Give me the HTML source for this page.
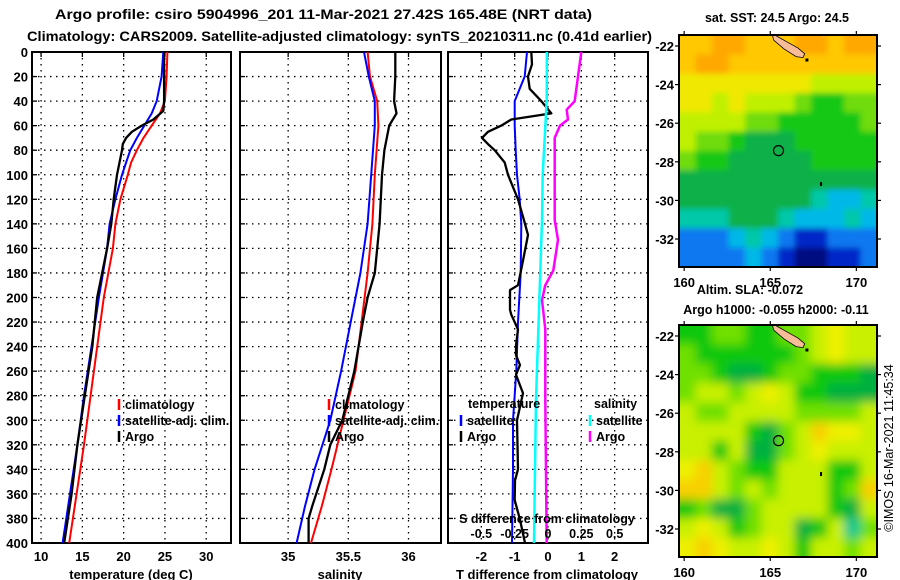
<!DOCTYPE html>
<html><head><meta charset="utf-8"><style>
body{margin:0;background:#fff;}
svg{display:block;font-family:"Liberation Sans",Arial,sans-serif;font-weight:bold;}
</style></head><body>
<svg id="fig" width="900" height="580" viewBox="0 0 900 580" xmlns="http://www.w3.org/2000/svg">
<defs>
<filter id="blurS" x="0" y="0" width="1" height="1"><feGaussianBlur stdDeviation="3"/></filter>
<filter id="blurL" x="0" y="0" width="1" height="1"><feGaussianBlur stdDeviation="5"/></filter>
<clipPath id="clipTop"><rect x="679" y="35" width="198" height="232"/></clipPath>
<clipPath id="clipBot"><rect x="679" y="325" width="198" height="232"/></clipPath>
</defs>
<text x="55" y="19" font-size="14" textLength="537" lengthAdjust="spacingAndGlyphs">Argo profile: csiro 5904996_201 11-Mar-2021 27.42S 165.48E (NRT data)</text>
<text x="27" y="41" font-size="14" textLength="625" lengthAdjust="spacingAndGlyphs">Climatology: CARS2009. Satellite-adjusted climatology: synTS_20210311.nc (0.41d earlier)</text>
<g id="g"></g>
</svg>
<script>
// ---- profile data ----
const tClimDepth=[0,20,40,50,60,70,80,90,100,120,140,160,200,240,280,320,360,400];
const tClim=[25.3,25.2,25.0,24.4,23.4,22.4,21.6,20.9,20.5,19.6,19.0,18.7,17.6,16.8,16.0,15.2,14.3,13.4];
const tSat=[24.8,24.6,24.0,23.4,22.5,21.6,20.8,20.3,19.8,19.0,18.3,18.0,17.0,16.1,15.2,14.4,13.5,12.6];
const tArgoDepth=[0,20,40,48,55,60,65,70,75,80,100,120,140,160,200,240,280,320,360,400];
const tArgo=[24.9,24.9,24.9,24.8,23.6,22.2,21.0,20.3,19.9,19.8,19.2,18.8,18.5,18.0,16.8,16.2,15.3,14.4,13.7,12.8];
const sDepth=[0,20,40,60,100,140,180,220,260,300,340,370,400];
const sClim=[35.66,35.68,35.74,35.75,35.72,35.70,35.66,35.61,35.56,35.46,35.36,35.28,35.19];
const sSat=[35.63,35.67,35.72,35.72,35.69,35.66,35.60,35.52,35.44,35.35,35.22,35.14,35.07];
const sArgoDepth=[0,20,40,50,60,80,100,140,180,200,220,260,280,300,320,340,370,380,400];
const sArgo=[35.89,35.89,35.88,35.90,35.84,35.80,35.78,35.76,35.72,35.66,35.62,35.55,35.50,35.45,35.35,35.30,35.20,35.17,35.17];
const dtSatDepth=[0,20,30,40,60,80,100,120,140,180,220,260,300,340,400];
const dtSat=[-0.63,-0.7,-0.85,-1.0,-1.0,-0.97,-0.93,-0.85,-0.8,-0.82,-0.9,-0.95,-1.05,-1.05,-1.08];
const dtArgoDepth=[0,10,20,30,40,45,50,55,60,65,70,75,80,90,100,120,137,149,170,190,194,210,214,226,239,247,255,263,278,300,340,349,365,381,400];
const dtArgo=[-0.5,-0.48,-0.6,-0.55,-0.2,-0.05,0.1,-1.1,-1.4,-1.8,-1.98,-1.8,-1.6,-1.3,-1.2,-0.9,-0.72,-0.6,-0.75,-0.9,-1.14,-1.14,-1.1,-0.9,-0.96,-0.96,-0.84,-0.96,-0.75,-0.93,-0.9,-0.99,-1.0,-0.84,-0.69];
const dsSatDepth=[0,40,100,137,186,283,400];
const dsSat=[-0.008,-0.01,-0.04,-0.045,-0.06,-0.09,-0.105];
const dsArgoDepth=[0,40,47,55,60,70,100,137,153,178,190,202,226,283,400];
const dsArgo=[0.25,0.2,0.14,0.15,0.09,0.05,0.05,0.05,0.075,0.04,-0.02,-0.045,-0.02,-0.02,-0.01];
const depthTicks=[0,20,40,60,80,100,120,140,160,180,200,220,240,260,280,300,320,340,360,380,400];
const tTicks=[10,15,20,25,30];
const sTicks=[35,35.5,36];
const dtTicks=[-2,-1,0,1,2];
const dsTickVals=[-0.5,-0.25,0,0.25,0.5];
const dsTickLabels=["-0.5","-0.25","0","0.25","0.5"];
// ---- map data ----
const lonTicks=[160,165,170];
const latTicks=[-22,-24,-26,-28,-30,-32];
const sstPalette=["#000a80","#0028c8","#0a78f0","#00b8e8","#00c8a8","#10b048","#18c818","#70dc10","#c0f000","#f0e800","#ffc800","#ffa800"];
const sstGrid=[
[10,10,11,11,10,10,10,11,11,10,11,11],
[10,11,11,10,10,10,10,10,10,10,10,10],
[9,9,9,9,9,9,9,9,8,8,8,8],
[9,9,8,9,8,8,8,7,6,6,7,7],
[8,8,8,8,7,7,6,6,6,6,6,7],
[8,7,7,6,5,5,5,6,6,6,6,6],
[7,6,6,5,5,5,5,5,6,6,6,6],
[5,5,5,5,5,5,5,5,5,5,5,5],
[5,5,5,5,5,5,5,5,4,3,3,4],
[4,4,4,5,5,5,4,3,3,3,4,3],
[2,2,2,3,4,3,2,1,1,2,2,2],
[2,2,2,2,3,2,1,0,0,1,1,2]];
const slaPalette=["#00c890","#00b040","#10c810","#70e000","#c8f000","#eef000","#f8d000","#f8b000"];
const slaGrid=[
[2,2,3,3,2,2,3,3,4,5,4,4],
[3,2,2,2,2,2,2,3,4,5,4,4],
[3,3,2,1,1,2,3,3,2,2,2,1],
[3,4,4,3,4,5,4,2,2,1,1,1],
[4,3,3,4,4,4,4,3,3,3,3,4],
[4,4,4,4,2,1,3,4,6,5,5,4],
[4,4,2,4,1,1,3,4,5,4,4,4],
[5,6,4,3,2,2,4,4,4,2,2,4],
[6,6,4,3,4,3,4,4,4,2,3,6],
[2,3,1,1,3,4,4,4,4,2,1,4],
[4,5,4,2,3,4,4,1,2,4,0,3],
[5,6,5,4,4,5,4,2,4,4,3,4]];
const argoLon=165.48, argoLat=-27.42;

const NS="http://www.w3.org/2000/svg";
const G=document.getElementById('g');
function el(tag,attrs,parent){const e=document.createElementNS(NS,tag);for(const k in attrs)e.setAttribute(k,attrs[k]);(parent||G).appendChild(e);return e;}
function txt(s,x,y,size,anchor,parent){const t=el('text',{x:x,y:y,'font-size':size,'text-anchor':anchor||'start'},parent);t.textContent=s;return t;}

const pTop=52,pBot=543;
const yD=d=>pTop+(d/400)*(pBot-pTop);

function panel(name,x0,x1,vmin,vmax,gridVals){
  const g=el('g',{});
  
  
  const sx=v=>x0+(v-vmin)/(vmax-vmin)*(x1-x0);
  depthTicks.forEach(d=>{if(d>0&&d<400){el('line',{x1:x0,x2:x1,y1:yD(d),y2:yD(d),stroke:'#000','stroke-width':1.3,'stroke-dasharray':'1.5 4.5'},g);el('line',{x1:x0,x2:x0+5,y1:yD(d),y2:yD(d),stroke:'#000','stroke-width':1.3},g);}});
  gridVals.forEach(v=>{el('line',{x1:sx(v),x2:sx(v),y1:pTop,y2:pBot,stroke:'#000','stroke-width':1.3,'stroke-dasharray':'1.5 4.5'},g);el('line',{x1:sx(v),x2:sx(v),y1:pTop,y2:pTop+5,stroke:'#000','stroke-width':1.3},g);});
  el('rect',{x:x0,y:pTop,width:x1-x0,height:pBot-pTop,fill:'none',stroke:'#000','stroke-width':2},g);
  return {g,sx};
}
function series(p,vals,depths,color,name,w){
  const pts=vals.map((v,i)=>p.sx(v).toFixed(1)+','+yD(depths[i]).toFixed(1)).join(' ');
  const l=el('polyline',{points:pts,fill:'none',stroke:color,'stroke-width':w||2,'stroke-linejoin':'round'},p.g);
  
  
}
function legendItem(g,x,y,color,label,name){
  const it=el('g',{},g);
  
  
  el('line',{x1:x,x2:x,y1:y-10,y2:y+1,stroke:color,'stroke-width':2.5},it);
  txt(label,x+6,y,12.5,'start',it);
}

// Panel 1 temperature
const p1=panel('temperature-panel',32,231,8.9,33.0,tTicks);
depthTicks.forEach(d=>{const t=txt(String(d),28,yD(d)+5,13,'end');});
tTicks.forEach(v=>txt(String(v),p1.sx(v),561,13,'middle',p1.g));
txt('temperature (deg C)',131,579,13,'middle',p1.g);
series(p1,tClim,tClimDepth,'#ff0000','temp-climatology-line');
series(p1,tSat,tClimDepth,'#0000ff','temp-satellite-line');
series(p1,tArgo,tArgoDepth,'#000','temp-argo-line',2.3);
const lg1=el('g',{});
legendItem(lg1,119,409,'#ff0000','climatology','legend-climatology');
legendItem(lg1,119,425,'#0000ff','satellite-adj. clim.','legend-satellite');
legendItem(lg1,119,441,'#000','Argo','legend-argo');

// Panel 2 salinity
const p2=panel('salinity-panel',240,441,34.6,36.27,sTicks);
sTicks.forEach(v=>txt(String(v),p2.sx(v),561,13,'middle',p2.g));
txt('salinity',340,579,13,'middle',p2.g);
series(p2,sClim,sDepth,'#ff0000','sal-climatology-line');
series(p2,sSat,sDepth,'#0000ff','sal-satellite-line');
series(p2,sArgo,sArgoDepth,'#000','sal-argo-line',2.3);
const lg2=el('g',{});
legendItem(lg2,329,409,'#ff0000','climatology','legend-climatology');
legendItem(lg2,329,425,'#0000ff','satellite-adj. clim.','legend-satellite');
legendItem(lg2,329,441,'#000','Argo','legend-argo');

// Panel 3 differences
const p3=panel('difference-panel',448,648,-3,3,dtTicks);
dtTicks.forEach(v=>txt(String(v),p3.sx(v),561,13,'middle',p3.g));
txt('T difference from climatology',547,579,13,'middle',p3.g);
series(p3,dtSat,dtSatDepth,'#0000ff','tdiff-satellite-line');
series(p3,dtArgo,dtArgoDepth,'#000','tdiff-argo-line',2.3);
const pS={g:p3.g,sx:v=>p3.sx(v*4)};
series(pS,dsSat,dsSatDepth,'#00ffff','sdiff-satellite-line',2.5);
series(pS,dsArgo,dsArgoDepth,'#ff00ff','sdiff-argo-line',2.5);
txt('S difference from climatology',547,523,12.5,'middle',p3.g);
dsTickVals.forEach((v,i)=>txt(dsTickLabels[i],pS.sx(v),538,12.5,'middle',p3.g));
const lg3=el('g',{});
txt('temperature',468,408,12.5,'start',lg3);
legendItem(lg3,461,425,'#0000ff','satellite','legend-temp-satellite');
legendItem(lg3,461,441,'#000','Argo','legend-temp-argo');
txt('salinity',594,408,12.5,'start',lg3);
legendItem(lg3,590,425,'#00ffff','satellite','legend-sal-satellite');
legendItem(lg3,590,441,'#ff00ff','Argo','legend-sal-argo');

// ---- maps ----
const lonMin=159.7,lonMax=171.2,latTop=-21.43,latBot=-33.45;
function drawMap(name,y0,grid,palette,clip,blur,titleLines){
  const g=el('g',{});
  
  
  const x0=679,x1=877,y1=y0+232;
  const mx=lon=>x0+(lon-lonMin)/(lonMax-lonMin)*(x1-x0);
  const my=lat=>y0+(lat-latTop)/(latBot-latTop)*(y1-y0);
  const cg=el('g',{'clip-path':'url(#'+clip+')'},g);
  const hg=el('g',{filter:'url(#'+blur+')'},cg);
  const nr=grid.length,nc=grid[0].length;
  const cw=(lonMax-lonMin)/nc,ch=(latTop-latBot)/nr;
  el('rect',{x:x0-20,y:y0-20,width:240,height:272,fill:palette[grid[nr-1][0]]},hg);
  grid.forEach((row,r)=>row.forEach((v,c)=>{
    const lx=lonMin+c*cw, ly=latTop-r*ch;
    const ex=(c===0?-20:0), ey=(r===0?-20:0);
    const rr=el('rect',{x:mx(lx)+ex,y:my(ly)+ey,width:mx(lx+cw)-mx(lx)+0.6-ex+(c===nc-1?20:0),height:my(ly-ch)-my(ly)+0.6-ey+(r===nr-1?20:0),fill:palette[v]},hg);
    
    
  }));
  const land=el('polygon',{points:[[165.1,-21.35],[165.9,-21.75],[166.6,-22.1],[167.0,-22.4],[166.9,-22.6],[166.5,-22.55],[165.8,-22.15],[165.2,-21.7]].map(p=>mx(p[0]).toFixed(1)+','+my(p[1]).toFixed(1)).join(' '),fill:'#f8bc98',stroke:'#000','stroke-width':0.8},cg);
  
  
  el('polygon',{points:[[167.8,-21.35],[168.3,-21.35],[168.1,-21.55]].map(p=>mx(p[0]).toFixed(1)+','+my(p[1]).toFixed(1)).join(' '),fill:'#f8bc98'},cg);
  el('rect',{x:mx(167.1)-1,y:my(-22.7)-1,width:3,height:3,fill:'#000'},cg);
  el('rect',{x:mx(167.95)-1,y:my(-29.1)-1,width:2,height:4,fill:'#000'},cg);
  el('rect',{x:x0,y:y0,width:x1-x0,height:y1-y0,fill:'none',stroke:'#000','stroke-width':2},g);
  const c=el('circle',{cx:mx(argoLon),cy:my(argoLat),r:5,fill:'none',stroke:'#000','stroke-width':1.2},g);
  
  
  lonTicks.forEach(v=>{el('line',{x1:mx(v),x2:mx(v),y1:y0-4,y2:y0,stroke:'#000','stroke-width':1.2},g);el('line',{x1:mx(v),x2:mx(v),y1:y1,y2:y1+4,stroke:'#000','stroke-width':1.2},g);txt(String(v),mx(v),y1+20,13,'middle',g);});
  latTicks.forEach(v=>{el('line',{x1:x0-4,x2:x0,y1:my(v),y2:my(v),stroke:'#000','stroke-width':1.2},g);el('line',{x1:x1,x2:x1+4,y1:my(v),y2:my(v),stroke:'#000','stroke-width':1.2},g);txt(String(v),674,my(v)+5,13,'end',g);});
  titleLines.forEach(t=>{const tt=txt(t[0],t[1],t[2],12.5,'middle',g);});
}
drawMap('sst-map',35,sstGrid,sstPalette,'clipTop','blurS',[['sat. SST: 24.5 Argo: 24.5',777,22]]);
drawMap('sla-map',325,slaGrid,slaPalette,'clipBot','blurL',[['Altim. SLA: -0.072',750,294],['Argo h1000: -0.055 h2000: -0.11',776,314]]);
const cr=txt('©IMOS 16-Mar-2021 11:45:34',0,0,12.5,'middle');
cr.setAttribute('transform','translate(893,448) rotate(-90)');
cr.setAttribute('font-weight','normal');


</script>
</body></html>
